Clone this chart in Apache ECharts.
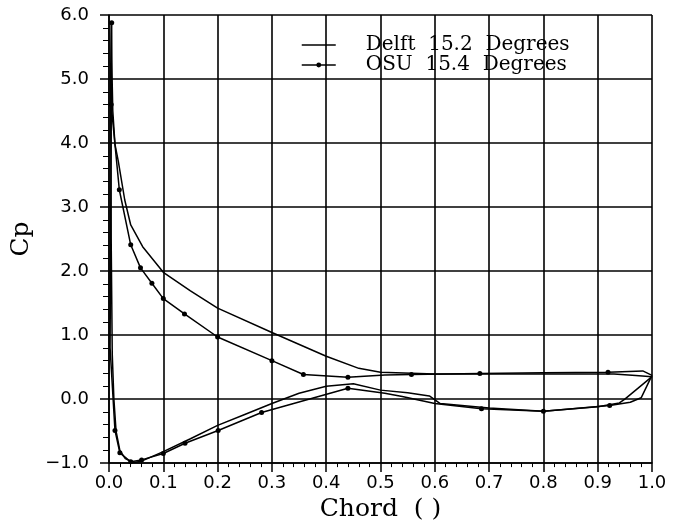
<!DOCTYPE html>
<html><head><meta charset="utf-8">
<script src="https://cdn.jsdelivr.net/npm/echarts@6/dist/echarts.min.js"></script>
<style>html,body{margin:0;padding:0;background:#fff}#c{width:676px;height:527px}</style>
</head><body><div id="c"></div>
<script>
// Delft 15.2 deg: closed loop, upper surface TE -> LE, lower surface LE -> TE
const delftX  = [1.0, 0.97, 0.93, 0.8, 0.7, 0.6, 0.5, 0.46, 0.4, 0.3, 0.2, 0.15, 0.1, 0.062, 0.04, 0.029, 0.017, 0.011, 0.007, 0.005, 0.004, 0.003, 0.004, 0.006, 0.009, 0.013, 0.02, 0.03, 0.045, 0.06, 0.1, 0.15, 0.2, 0.25, 0.3, 0.35, 0.4, 0.45, 0.5, 0.55, 0.59, 0.61, 0.7, 0.8, 0.9, 0.94, 0.95, 1.0];
const delftCp = [0.35, 0.37, 0.39, 0.39, 0.39, 0.39, 0.42, 0.48, 0.67, 1.04, 1.42, 1.69, 1.98, 2.38, 2.72, 3.11, 3.72, 3.98, 4.5, 5.3, 5.9, 5.0, 2.5, 0.7, 0.0, -0.5, -0.8, -0.93, -0.99, -0.97, -0.82, -0.62, -0.41, -0.24, -0.07, 0.09, 0.2, 0.24, 0.14, 0.10, 0.05, -0.07, -0.14, -0.19, -0.12, -0.06, 0.0, 0.35];
// OSU 15.4 deg: closed loop; osuMark = 1 where a measured point marker is drawn
const osuX    = [1.0, 0.983, 0.919, 0.8, 0.683, 0.557, 0.508, 0.44, 0.358, 0.3, 0.2, 0.139, 0.1, 0.079, 0.058, 0.040, 0.019, 0.004, 0.005, 0.002, 0.011, 0.020, 0.04, 0.06, 0.1, 0.14, 0.201, 0.281, 0.44, 0.508, 0.54, 0.6, 0.686, 0.8, 0.922, 0.96, 0.98, 1.0];
const osuCp   = [0.37, 0.44, 0.42, 0.41, 0.40, 0.385, 0.375, 0.34, 0.385, 0.60, 0.97, 1.33, 1.57, 1.81, 2.05, 2.41, 3.27, 4.6, 5.88, 0.8, -0.49, -0.84, -0.98, -0.95, -0.85, -0.69, -0.49, -0.21, 0.17, 0.09, 0.04, -0.07, -0.15, -0.19, -0.10, -0.05, 0.02, 0.37];
const osuMark = [0, 0, 1, 0, 1, 1, 0, 1, 1, 1, 1, 1, 1, 1, 1, 1, 1, 1, 1, 0, 1, 1, 1, 1, 1, 1, 1, 1, 1, 0, 0, 0, 1, 1, 1, 0, 0, 0];
const xTicks = ['0.0','0.1','0.2','0.3','0.4','0.5','0.6','0.7','0.8','0.9','1.0'];
const yTicks = ['\u22121.0','0.0','1.0','2.0','3.0','4.0','5.0','6.0'];
const seriesNames = ['Delft  15.2  Degrees', 'OSU  15.4  Degrees'];

const chart = echarts.init(document.getElementById('c'), null, {renderer:'canvas'});
const delftData = delftX.map((x,i)=>[x, delftCp[i]]);
const osuData = osuX.map((x,i)=>({value:[x, osuCp[i]], symbol: osuMark[i] ? 'circle' : 'none'}));
const blk = '#000';
chart.setOption({
  animation:false,
  backgroundColor:'#fff',
  grid:{left:109, right:24, top:15, bottom:58, containLabel:false},
  legend:{
    left:296, top:30, orient:'vertical', itemWidth:34, itemHeight:6, itemGap:0,
    data:[
      {name:seriesNames[0], itemStyle:{color:'rgba(0,0,0,0)', borderWidth:0}, lineStyle:{color:blk, width:1.5}},
      {name:seriesNames[1], itemStyle:{color:blk}, lineStyle:{color:blk, width:1.5}}
    ],
    textStyle:{fontFamily:'DejaVu Serif', fontSize:20, color:blk, lineHeight:20, padding:[0,0,0,25]}
  },
  xAxis:{
    type:'value', min:0, max:1, interval:0.1,
    name:'Chord  ( )', nameLocation:'middle', nameGap:32,
    nameTextStyle:{fontFamily:'DejaVu Serif', fontSize:25, color:blk},
    axisLine:{show:true, onZero:false, lineStyle:{color:blk, width:1.5}},
    axisTick:{show:true, length:9, lineStyle:{color:blk, width:1.5}},
    minorTick:{show:true, splitNumber:5, length:4, lineStyle:{color:blk, width:1}},
    axisLabel:{margin:11, fontFamily:'DejaVu Sans', fontSize:18, color:blk,
      formatter:(v)=>{const i=Math.round(v*10); return xTicks[i]!==undefined?xTicks[i]:'';}},
    splitLine:{show:true, lineStyle:{color:blk, width:1.6}}
  },
  yAxis:{
    type:'value', min:-1, max:6, interval:1,
    name:'Cp', nameLocation:'middle', nameGap:68, nameRotate:90,
    nameTextStyle:{fontFamily:'DejaVu Serif', fontSize:25, color:blk},
    axisLine:{show:true, onZero:false, lineStyle:{color:blk, width:1.5}},
    axisTick:{show:true, length:9, lineStyle:{color:blk, width:1.5}},
    minorTick:{show:true, splitNumber:5, length:6, lineStyle:{color:blk, width:1}},
    axisLabel:{margin:20, fontFamily:'DejaVu Sans', fontSize:18, color:blk,
      formatter:(v)=>{const i=Math.round(v)+1; return yTicks[i]!==undefined?yTicks[i]:'';}},
    splitLine:{show:true, lineStyle:{color:blk, width:1.6}}
  },
  series:[
    {name:seriesNames[0], type:'line', data:delftData, showSymbol:false, symbol:'none',
     lineStyle:{color:blk, width:1.5}, itemStyle:{color:blk}},
    {name:seriesNames[1], type:'line', data:osuData, showSymbol:true, symbol:'circle', symbolSize:5,
     lineStyle:{color:blk, width:1.5}, itemStyle:{color:blk}}
  ]
});
</script></body></html>
